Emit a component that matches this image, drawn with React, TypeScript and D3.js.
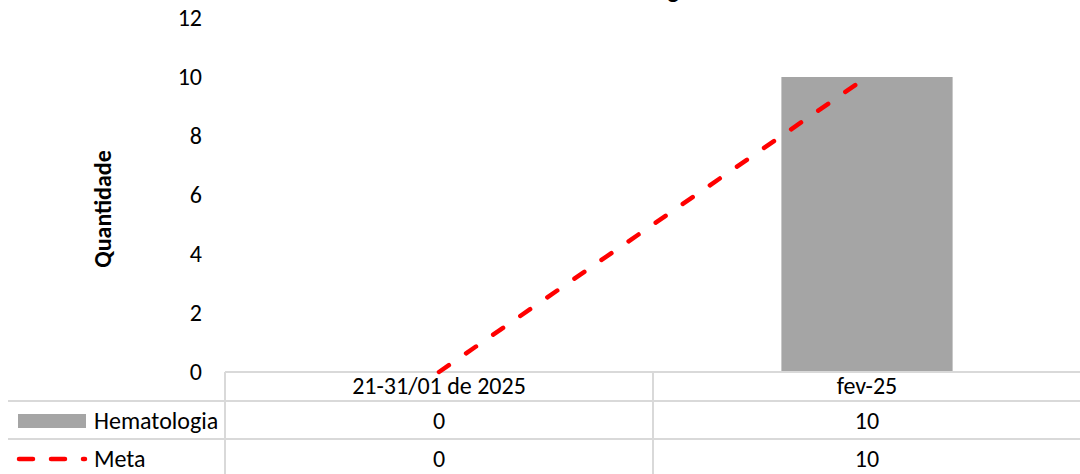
import React from 'react';
import * as d3 from 'd3';

const categories = ["21-31/01 de 2025", "fev-25"];
const hematologia = [0, 10];
const meta = [0, 10];
const yTicks = [0, 2, 4, 6, 8, 10, 12];
const seriesNames = ["Hematologia", "Meta"];

const W = 1080;
const H = 474;
const FONT = "Calibri, Carlito, 'Open Sans', sans-serif";
const GRID = "#d9d9d9";
const FS = 24;

const App = () => {
    const x = d3.scaleBand<string>().domain(categories).range([225, 1081]);
    const y = d3.scaleLinear().domain([0, 12]).range([372, 18]);
    const barW = x.bandwidth() * 0.4;
    const cx = (c: string) => (x(c) ?? 0) + x.bandwidth() / 2;

    const metaLine = d3.line<number>()
        .x((_, i) => cx(categories[i]))
        .y(d => y(d));

    // table rows below the plot
    const rowTop = [372, 401, 439];
    const rowMid = [386, 421, 459];

    return (
        <svg width={W} height={H} style={{ position: 'absolute', left: 0, top: 0 }} fontFamily={FONT}>
            <rect width={W} height={H} fill="#fff" />
            <text x={633} y={-2} textAnchor="middle" fontSize={FS} fontWeight="bold" fill="#000">Hematologia</text>

            {/* y axis labels */}
            {yTicks.map(t => (
                <text key={t} x={202} y={y(t)} dy="0.35em" textAnchor="end" fontSize={FS} fill="#000">{t}</text>
            ))}
            <text transform="translate(111,209) rotate(-90)" textAnchor="middle" fontSize={FS} fontWeight="bold" fill="#000">Quantidade</text>

            {/* bars */}
            {hematologia.map((v, i) => (
                <rect key={i} x={cx(categories[i]) - barW / 2} y={y(v)} width={barW} height={y(0) - y(v)} fill="#a5a5a5" />
            ))}

            {/* table grid */}
            <line x1={225} x2={W} y1={rowTop[0]} y2={rowTop[0]} stroke={GRID} strokeWidth={2} />
            <line x1={8} x2={W} y1={rowTop[1]} y2={rowTop[1]} stroke={GRID} strokeWidth={2} />
            <line x1={8} x2={W} y1={rowTop[2]} y2={rowTop[2]} stroke={GRID} strokeWidth={2} />
            {categories.map(c => (
                <line key={c} x1={x(c)} x2={x(c)} y1={rowTop[0]} y2={H} stroke={GRID} strokeWidth={2} />
            ))}

            {/* meta line */}
            <path d={metaLine(meta) ?? ''} fill="none" stroke="#ff0000" strokeWidth={4.5}
                strokeDasharray="12 20.9" strokeLinecap="round" />

            {/* category row */}
            {categories.map(c => (
                <text key={c} x={cx(c)} y={rowMid[0]} dy="0.35em" textAnchor="middle" fontSize={FS} fill="#000">{c}</text>
            ))}

            {/* legend keys */}
            <rect x={18} y={414} width={68} height={14} fill="#a5a5a5" />
            <line x1={19} x2={85} y1={rowMid[2]} y2={rowMid[2]} stroke="#ff0000" strokeWidth={4.5}
                strokeDasharray="14 18" strokeLinecap="round" />
            {seriesNames.map((s, i) => (
                <text key={s} x={94} y={rowMid[i + 1]} dy="0.35em" fontSize={FS} fill="#000">{s}</text>
            ))}

            {/* values */}
            {[hematologia, meta].map((vals, r) => vals.map((v, i) => (
                <text key={`${r}-${i}`} x={cx(categories[i])} y={rowMid[r + 1]} dy="0.35em" textAnchor="middle" fontSize={FS} fill="#000">{v}</text>
            )))}
        </svg>
    );
};

export default App;
